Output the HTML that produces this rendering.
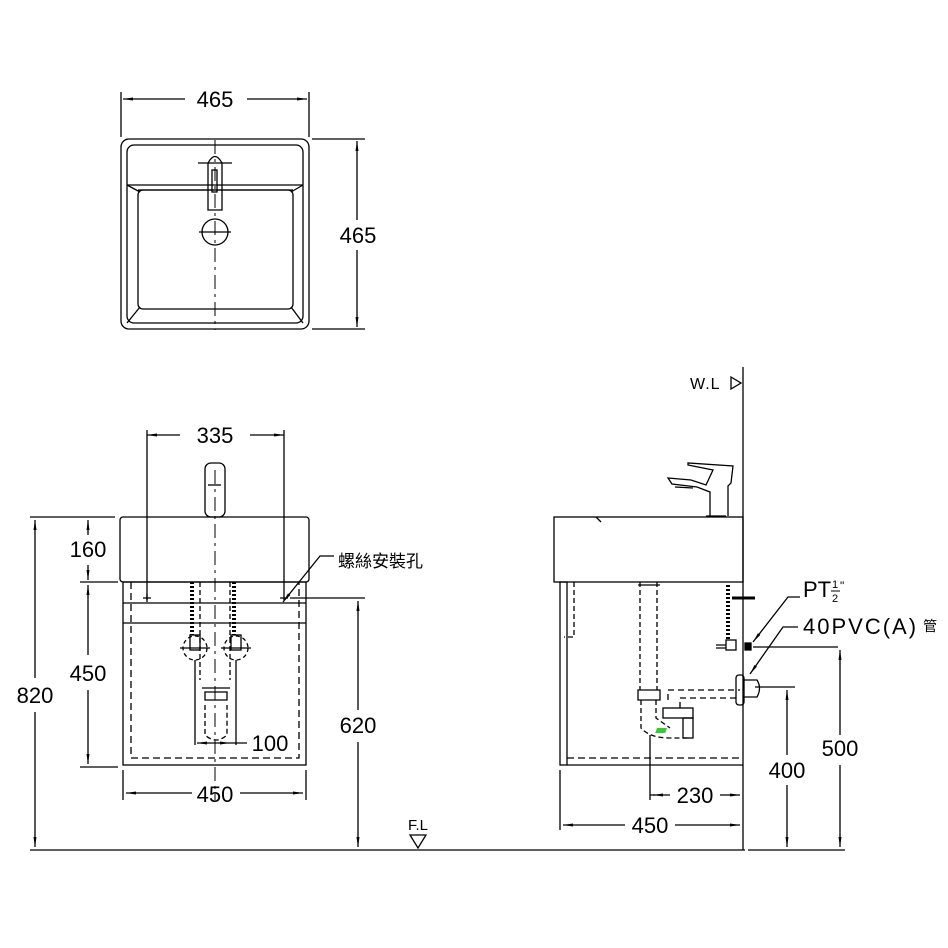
<!DOCTYPE html>
<html><head><meta charset="utf-8"><style>
html,body{margin:0;padding:0;background:#fff}
svg{display:block}
text{font-family:"Liberation Sans","Noto Sans CJK TC",sans-serif;fill:#000}
</style></head><body>
<svg width="948" height="948" viewBox="0 0 948 948" xmlns="http://www.w3.org/2000/svg">
<defs>
<marker id="a" viewBox="0 0 10 4" refX="10" refY="2" markerWidth="10" markerHeight="4" orient="auto-start-reverse" markerUnits="userSpaceOnUse"><path d="M0,0.5 L10,2 L0,3.5z" fill="#000"/></marker>
</defs>
<g fill="none" stroke="#000" stroke-width="1.3">
<!-- TOP VIEW -->
<rect x="121" y="139" width="188" height="190" rx="8"/>
<rect x="127" y="145" width="176" height="178" rx="7"/>
<path d="M127,185 L303,185 M138,190 L293,190"/>
<rect x="138" y="190" width="155" height="119" rx="5"/>
<path d="M127,185 L140,192 M303,185 L291,192 M127,323 L140,307 M303,323 L291,307"/>
<path d="M208,210 L208,163 Q215,150 222,163 L222,210 Z"/>
<rect x="212" y="170" width="5" height="22"/>
<circle cx="215" cy="232" r="13"/>
<path d="M199,232 L231,232 M198,163 L232,163"/>
<path d="M215,140 L215,330" stroke-dasharray="14,5,3,5" stroke-width="1"/>
<path d="M121,137 L121,92 M309,137 L309,92 M312,139 L365,139 M312,329 L365,329"/>
<path d="M123,99 L185,99" marker-start="url(#a)"/>
<path d="M247,99 L307,99" marker-end="url(#a)"/>
<path d="M357,141 L357,220" marker-start="url(#a)"/>
<path d="M357,250 L357,327" marker-end="url(#a)"/>

<!-- FRONT VIEW -->
<rect x="120" y="517" width="189" height="65" rx="3"/>
<rect x="205" y="463" width="20" height="54" rx="6"/>
<path d="M208,485 L221,485"/>
<rect x="123" y="582" width="183" height="183"/>
<path d="M123,603 L306,603 M123,623 L306,623"/>
<path d="M131,582 L131,758 L299,758 L299,582" stroke-dasharray="7,4"/>
<path d="M215,470 L215,800" stroke-dasharray="14,5,3,5" stroke-width="1"/>
<path d="M200,582 L200,680 M230,582 L230,680" stroke-dasharray="5,3"/>
<path d="M192,582 L192,635 M234,582 L234,635" stroke-width="4" stroke-dasharray="2,2"/>
<circle cx="195" cy="648" r="12" stroke-dasharray="4,3"/>
<circle cx="236" cy="648" r="12" stroke-dasharray="4,3"/>
<path d="M180,648 L210,648 M221,648 L251,648 M195,660 L195,745 M236,660 L236,745"/>
<rect x="190" y="635" width="10" height="15"/><rect x="231" y="635" width="10" height="15"/>
<path d="M202,688 L230,688 M205,692 L227,692 L227,700 L205,700Z"/>
<path d="M205,705 L205,735 Q216,745 227,735 L227,705" stroke-dasharray="5,3"/>
<path d="M147,430 L147,600 M284,430 L284,600" />
<path d="M147,435 L180,435" marker-start="url(#a)"/>
<path d="M250,435 L284,435" marker-end="url(#a)"/>
<path d="M143,598 L151,598 M147,594 L147,602 M280,598 L288,598"/>
<path d="M290,598 L365,598"/>
<path d="M30,517 L115,517 M30,850 L745,850 M80,582 L118,582 M80,767 L118,767"/>
<path d="M88,520 L88,535" marker-start="url(#a)"/>
<path d="M88,565 L88,580" marker-end="url(#a)"/>
<path d="M88,585 L88,655" marker-start="url(#a)"/>
<path d="M88,690 L88,764" marker-end="url(#a)"/>
<path d="M35,520 L35,678" marker-start="url(#a)"/>
<path d="M35,712 L35,847" marker-end="url(#a)"/>
<path d="M358,601 L358,710" marker-start="url(#a)"/>
<path d="M358,742 L358,847" marker-end="url(#a)"/>
<path d="M123,770 L123,800 M306,770 L306,800"/>
<path d="M126,793 L192,793" marker-start="url(#a)"/>
<path d="M240,793 L303,793" marker-end="url(#a)"/>
<path d="M197,743 L230,743" marker-start="url(#a)" marker-end="url(#a)"/>
<path d="M230,743 L247,743"/>
<path d="M283,602 L320,556 L334,556" marker-start="url(#a)"/>
<path d="M410,835 L426,835 L418,848Z"/>

<!-- SIDE VIEW -->
<path d="M743,367 L743,850 M748,850 L845,850"/>
<path d="M731,377 L741,383 L731,389Z"/>
<rect x="554" y="517" width="189" height="65"/>
<path d="M596,517 L601,522"/>
<path d="M710,516 L710,492 L697,487 L672,484 L668,478 L691,480 L706,485 L713,470 L688,465 L688,463 L733,466 L731,483 L728,486 L728,516"/>
<path d="M675,487 L693,488 M706,516 L726,516"/>
<rect x="560" y="582" width="7" height="183"/>
<path d="M567,765 L743,765"/>
<path d="M567,758 L743,758" stroke-dasharray="7,4"/>
<path d="M574,582 L574,637 L564,637" stroke-dasharray="5,3"/>
<path d="M640,582 L640,690 M657,582 L657,690" stroke-dasharray="5,3"/>
<path d="M638,585 L660,585 M638,690 L660,690 L660,700 L638,700 Z"/>
<path d="M641,700 L641,728 Q650,738 670,738 L688,738 M656,700 L656,718 L670,728" stroke-dasharray="5,3"/>
<rect x="663" y="708" width="30" height="10"/>
<rect x="683" y="718" width="10" height="20"/>
<path d="M668,700 L668,690 L740,690 M680,708 L680,698 L740,698" stroke-dasharray="6,4"/>
<rect x="736" y="675" width="8" height="30" rx="3"/>
<path d="M744,680 L757,680 Q762,688 757,697 L744,697"/>
<path d="M650,735 L650,800"/>
<path d="M728,585 L728,640" stroke-width="4" stroke-dasharray="2,2"/>
<path d="M732,598 L755,598" stroke-width="3"/>
<rect x="726" y="640" width="10" height="10"/>
<path d="M716,645 L726,645 M716,648 L726,648"/>
<rect x="745" y="643" width="6" height="7" fill="#000"/>
<path d="M753,647 L838,647 M755,687 L795,687"/>
<path d="M753,642 L788,597 L800,597" marker-start="url(#a)"/>
<path d="M750,674 L783,627 L798,627" marker-start="url(#a)"/>
<path d="M560,770 L560,830 M650,795 L655,795"/>
<path d="M653,795 L670,795" marker-start="url(#a)"/>
<path d="M720,795 L740,795" marker-end="url(#a)"/>
<path d="M563,825 L625,825" marker-start="url(#a)"/>
<path d="M675,825 L740,825" marker-end="url(#a)"/>
<path d="M787,690 L787,755" marker-start="url(#a)"/>
<path d="M787,785 L787,847" marker-end="url(#a)"/>
<path d="M840,650 L840,735" marker-start="url(#a)"/>
<path d="M840,765 L840,847" marker-end="url(#a)"/>
</g>
<rect x="657" y="728" width="10" height="5" fill="#3c3" transform="skewX(-20) translate(265,0)"/>
<g font-size="22">
<text x="215" y="107" text-anchor="middle">465</text>
<text x="358" y="243" text-anchor="middle">465</text>
<text x="215" y="443" text-anchor="middle">335</text>
<text x="88" y="557" text-anchor="middle">160</text>
<text x="88" y="681" text-anchor="middle">450</text>
<text x="35" y="703" text-anchor="middle">820</text>
<text x="358" y="733" text-anchor="middle">620</text>
<text x="270" y="751" text-anchor="middle">100</text>
<text x="215" y="802" text-anchor="middle">450</text>
<text x="695" y="803" text-anchor="middle">230</text>
<text x="650" y="833" text-anchor="middle">450</text>
<text x="787" y="778" text-anchor="middle">400</text>
<text x="840" y="756" text-anchor="middle">500</text>
<text x="803" y="597">PT</text>
<text x="803" y="634" letter-spacing="2">40PVC(A)</text>
</g>
<text x="832" y="588" font-size="11">1</text>
<text x="832" y="602" font-size="11">2</text>
<path d="M831,591 L840,591" stroke="#000"/>
<text x="840" y="590" font-size="12">"</text>
<text x="923" y="631" font-size="14">管</text>
<text x="338" y="567" font-size="17">螺絲安裝孔</text>
<text x="418" y="830" font-size="15" text-anchor="middle">F.L</text>
<text x="690" y="389" font-size="16" letter-spacing="1">W.L</text>
</svg>
</body></html>
